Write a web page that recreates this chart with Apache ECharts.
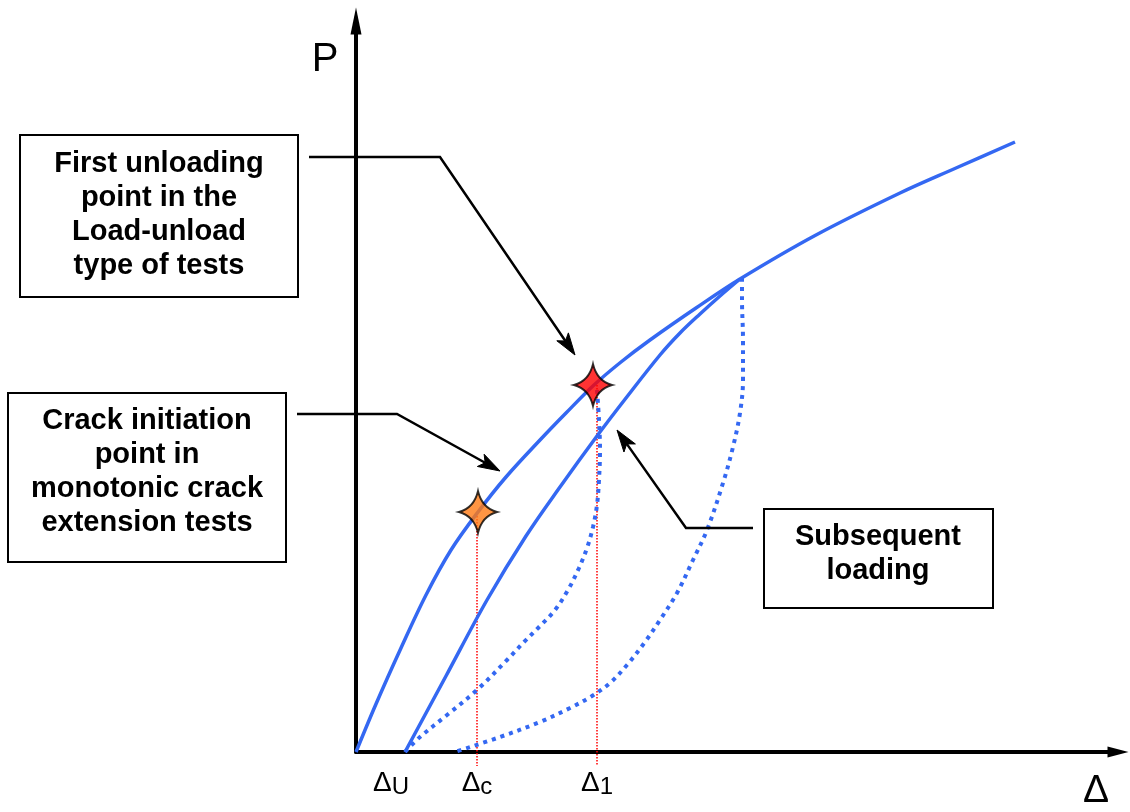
<!DOCTYPE html>
<html>
<head>
<meta charset="utf-8">
<title>Load–displacement: crack initiation and unloading points</title>
<script src="https://cdn.jsdelivr.net/npm/echarts@6/dist/echarts.min.js"></script>
<style>
  html, body { margin: 0; padding: 0; background: #ffffff; }
  #chart { width: 1130px; height: 812px; }
</style>
</head>
<body>
<div id="chart"></div>
<script>
// Displacement (Δ) and load (P) in drawing units, origin at the axes corner.
const loadingCurve = [[0, 0], [20, 48], [45, 104], [70, 157], [95, 202], [122, 240], [150, 275], [184, 312], [210, 339], [238, 367], [265, 390], [294, 412], [340, 444], [384, 473], [460, 517], [544, 559], [600, 584], [659, 610]];
const reloadingCurve = [[49, 0], [90, 76], [131, 152], [170, 216], [204, 265], [241, 316], [270, 354], [304, 397], [324, 419], [344, 438], [364, 456], [384, 473]];
const unloadFromFirst = [[241, 362], [243, 332], [244, 302], [243, 272], [241, 247], [237, 225], [231, 204], [223, 184], [212, 162], [199, 142], [184, 126], [168, 110], [151, 92], [121, 62], [91, 37], [64, 15], [49, 0]];
const unloadFromPeak = [[386, 474], [386, 452], [387, 412], [387, 372], [384, 339], [377, 305], [367, 269], [351, 222], [337, 192], [321, 159], [304, 132], [289, 110], [271, 87], [254, 69], [236, 56], [214, 44], [184, 30], [144, 15], [99, 0]];

// Marked points on the loading curve
const crackInitiation = [122, 240];
const firstUnloading = [237, 367];

// Displacement marks on the Δ axis and their guides
const deltaTicks = [49, 121, 241];
const deltaSubscripts = ['U', 'c', '1'];
const guideLines = [[121, 239], [241, 367]];

// Callout texts and leader paths (last point = arrow tip)
const calloutTexts = [
  'First unloading\npoint in the\nLoad-unload\ntype of tests',
  'Crack initiation\npoint in\nmonotonic crack\nextension tests',
  'Subsequent\nloading'
];
const leaderPaths = [
  [[-47, 595], [84, 595], [219, 397]],
  [[-59, 338], [41, 338], [144, 281]],
  [[397, 224], [330, 224], [261, 322]]
];

const BLUE = '#3468f2';
const FONT = '"Liberation Sans", Arial, Helvetica, sans-serif';
const STAR = 'path://M0,-21 Q4,-4 19,0 Q4,4 0,21 Q-4,4 -19,0 Q-4,-4 0,-21 Z';

const chart = echarts.init(document.getElementById('chart'), null, { renderer: 'canvas' });

function leaderRender(params, api) {
  const pts = leaderPaths[params.dataIndex].map(p => api.coord(p));
  const tip = pts[pts.length - 1];
  const prev = pts[pts.length - 2];
  const dx = tip[0] - prev[0], dy = tip[1] - prev[1];
  const len = Math.sqrt(dx * dx + dy * dy);
  const ux = dx / len, uy = dy / len;
  const L = 22, W = 7, N = 17;
  const back = [tip[0] - ux * L, tip[1] - uy * L];
  const notch = [tip[0] - ux * N, tip[1] - uy * N];
  const head = [
    tip,
    [back[0] - uy * W, back[1] + ux * W],
    notch,
    [back[0] + uy * W, back[1] - ux * W]
  ];
  const line = pts.slice(0, -1).concat([notch]);
  return {
    type: 'group',
    children: [
      { type: 'polyline', shape: { points: line }, style: { stroke: '#000', lineWidth: 2.5, fill: null } },
      { type: 'polygon', shape: { points: head }, style: { fill: '#000', stroke: '#000', lineWidth: 1 } }
    ]
  };
}

function guideRender(params, api) {
  const top = api.coord([api.value(0), api.value(1)]);
  const base = api.coord([api.value(0), 0]);
  return {
    type: 'line',
    shape: { x1: top[0], y1: top[1], x2: base[0], y2: base[1] + 14 },
    style: { stroke: '#ff0000', lineWidth: 1.5, lineDash: [1.5, 1.5] }
  };
}

const subStyle = { fontSize: 24, fontFamily: '"Liberation Sans Narrow", ' + FONT, color: '#000', verticalAlign: 'bottom' };

const option = {
  animation: false,
  backgroundColor: '#ffffff',
  grid: { left: 356, right: 12, top: 21, bottom: 60, containLabel: false },
  xAxis: {
    type: 'value', min: 0, max: 762,
    splitLine: { show: false },
    axisTick: { show: false },
    axisLine: {
      show: true, onZero: true,
      symbol: ['none', 'triangle'], symbolSize: [11, 21],
      lineStyle: { color: '#000', width: 4 }
    },
    axisLabel: {
      show: true,
      customValues: deltaTicks,
      margin: 17,
      formatter: function (v) {
        const i = deltaTicks.indexOf(v);
        if (i < 0) return '';
        const key = i === 0 ? 'su' : 's';
        return '{d|Δ}{' + key + '|' + deltaSubscripts[i] + '}';
      },
      rich: {
        d: { fontSize: 28, fontFamily: FONT, color: '#000', verticalAlign: 'bottom', padding: [0, 0, 2, 0] },
        s: subStyle,
        su: Object.assign({}, subStyle, { padding: [0, 28, 0, 0] })
      }
    }
  },
  yAxis: {
    type: 'value', min: 0, max: 731,
    splitLine: { show: false },
    axisTick: { show: false },
    axisLabel: { show: false },
    axisLine: {
      show: true, onZero: true,
      symbol: ['none', 'triangle'], symbolSize: [11, 27],
      lineStyle: { color: '#000', width: 4 }
    }
  },
  graphic: [
    { type: 'text', x: 325, y: 60, z: 10, style: { text: 'P', fontSize: 40, fontFamily: FONT, fill: '#000', align: 'center', verticalAlign: 'middle' } },
    { type: 'text', x: 1096, y: 791, z: 10, style: { text: 'Δ', fontSize: 39, fontFamily: FONT, fill: '#000', align: 'center', verticalAlign: 'middle' } },

    { type: 'rect', z: 10, shape: { x: 20, y: 135, width: 278, height: 162 }, style: { fill: '#fff', stroke: '#000', lineWidth: 2 } },
    { type: 'text', z: 11, x: 159, y: 215, style: { text: calloutTexts[0], fontSize: 29, fontWeight: 'bold', fontFamily: FONT, lineHeight: 34, fill: '#000', align: 'center', verticalAlign: 'middle' } },

    { type: 'rect', z: 10, shape: { x: 8, y: 393, width: 278, height: 169 }, style: { fill: '#fff', stroke: '#000', lineWidth: 2 } },
    { type: 'text', z: 11, x: 147, y: 472, style: { text: calloutTexts[1], fontSize: 29, fontWeight: 'bold', fontFamily: FONT, lineHeight: 34, fill: '#000', align: 'center', verticalAlign: 'middle' } },

    { type: 'rect', z: 10, shape: { x: 764, y: 509, width: 229, height: 99 }, style: { fill: '#fff', stroke: '#000', lineWidth: 2 } },
    { type: 'text', z: 11, x: 878, y: 554, style: { text: calloutTexts[2], fontSize: 29, fontWeight: 'bold', fontFamily: FONT, lineHeight: 34, fill: '#000', align: 'center', verticalAlign: 'middle' } }
  ],
  series: [
    {
      name: 'Δ guides', type: 'custom', coordinateSystem: 'cartesian2d', clip: false, z: 2,
      data: guideLines, renderItem: guideRender, silent: true
    },
    {
      name: 'Unloading from first point', type: 'line', data: unloadFromFirst, clip: false,
      smooth: 0.35, showSymbol: false, symbol: 'none', z: 3,
      lineStyle: { color: BLUE, width: 4, type: [4, 5], cap: 'butt' }
    },
    {
      name: 'Unloading from peak', type: 'line', data: unloadFromPeak, clip: false,
      smooth: 0.35, showSymbol: false, symbol: 'none', z: 3,
      lineStyle: { color: BLUE, width: 4, type: [4, 5], cap: 'butt' }
    },
    {
      name: 'Loading', type: 'line', data: loadingCurve, clip: false,
      smooth: 0.35, showSymbol: false, symbol: 'none', z: 4,
      lineStyle: { color: BLUE, width: 3.5 }
    },
    {
      name: 'Subsequent loading', type: 'line', data: reloadingCurve, clip: false,
      smooth: 0.35, showSymbol: false, symbol: 'none', z: 4,
      lineStyle: { color: BLUE, width: 3.5 }
    },
    {
      name: 'Marked points', type: 'scatter', clip: false, z: 6,
      symbol: STAR, symbolSize: [38, 42],
      data: [
        { value: crackInitiation, itemStyle: { color: '#ff7a14' } },
        { value: firstUnloading, itemStyle: { color: '#ff0000' } }
      ],
      itemStyle: { borderColor: '#000', borderWidth: 2 }
    },
    {
      name: 'Leaders', type: 'custom', coordinateSystem: 'cartesian2d', clip: false, z: 7,
      data: leaderPaths.map((p, i) => [p[0][0], p[0][1], i]),
      renderItem: leaderRender, silent: true
    }
  ]
};

chart.setOption(option);
</script>
</body>
</html>
